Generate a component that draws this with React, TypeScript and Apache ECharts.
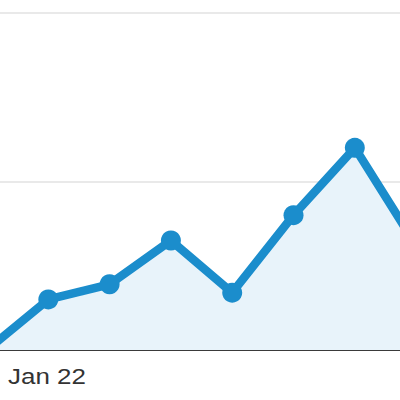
import React, { useEffect, useRef } from "react";
import * as echarts from "echarts";

// x positions are day indices; index 0 is just off the left edge
const dayIndex = [0, 1, 2, 3, 4, 5, 6, 7];
const visits = [0, 30, 39, 65, 34, 80, 120, 62];
const dateLabels = ["Jan 22"];
const yTicks = [0, 100, 200];

export default function App() {
  const ref = useRef<HTMLDivElement>(null);
  useEffect(() => {
    if (!ref.current) return;
    const chart = echarts.init(ref.current, undefined, { renderer: "svg" });
    chart.setOption({
      animation: false,
      backgroundColor: "#ffffff",
      grid: { left: 0, right: 0, top: 13, bottom: 50, containLabel: false },
      xAxis: {
        type: "value",
        min: 0.212,
        max: 6.737,
        axisLine: { show: true, onZero: false, lineStyle: { color: "#3a3a3a", width: 2 } },
        axisTick: { show: false },
        axisLabel: { show: false },
        splitLine: { show: false },
      },
      yAxis: {
        type: "value",
        min: yTicks[0],
        max: yTicks[yTicks.length - 1],
        interval: yTicks[1] - yTicks[0],
        axisLine: { show: false },
        axisTick: { show: false },
        axisLabel: { show: false },
        splitLine: { show: true, lineStyle: { color: "#e9e9e9", width: 2 } },
      },
      series: [
        {
          type: "line",
          data: dayIndex.map((d, i) => [d, visits[i]]),
          clip: true,
          symbol: "circle",
          symbolSize: 20,
          showSymbol: true,
          lineStyle: { color: "#1b8dcc", width: 8.5 },
          itemStyle: { color: "#1b8dcc" },
          areaStyle: { color: "#e8f3fa", opacity: 1 },
          z: 3,
        },
      ],
      graphic: [
        {
          type: "text",
          x: 8,
          y: 365,
          scaleX: 1.18,
          scaleY: 1.03,
          style: {
            text: dateLabels[0],
            fontSize: 22,
            fontFamily: "Liberation Sans, Arial, sans-serif",
            fill: "#333333",
            textVerticalAlign: "top",
          },
        },
      ],
    });
    return () => chart.dispose();
  }, []);
  return <div ref={ref} style={{ width: 400, height: 400, position: "absolute", left: 0, top: 0 }} />;
}
